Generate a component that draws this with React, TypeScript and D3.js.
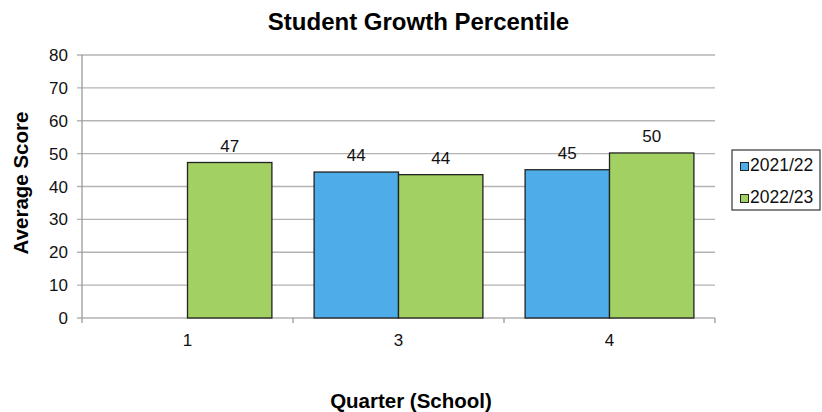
import React from "react";
import * as d3 from "d3";

const categories = ["1", "3", "4"];
const seriesNames = ["2021/22", "2022/23"];
const values2021: (number | null)[] = [null, 44.4, 45.1];
const values2022: (number | null)[] = [47.3, 43.6, 50.2];
const yTicks = [0, 10, 20, 30, 40, 50, 60, 70, 80];
const colors = ["#4eade8", "#a2d062"];

export default function App() {
  const W = 822, H = 412;
  const left = 82, right = 715, top = 55, bottom = 318;
  const x = d3.scaleBand<string>().domain(categories).range([left, right]).paddingInner(0).paddingOuter(0);
  const inner = d3.scaleBand<string>().domain(seriesNames).range([0, x.bandwidth()]).paddingOuter(0.25).paddingInner(0);
  const y = d3.scaleLinear().domain([0, 80]).range([bottom, top]);
  const series = [values2021, values2022];
  const font = "'Liberation Sans', Arial, sans-serif";
  const boundaries = [...categories.map((c) => x(c)!), right];

  return (
    <svg width={W} height={H} style={{ position: "absolute", left: 0, top: 0 }} fontFamily={font}>
      <rect width={W} height={H} fill="#fff" />
      <text x={418.5} y={30} textAnchor="middle" fontSize={24} fontWeight="bold">Student Growth Percentile</text>
      {yTicks.map((t) => (
        <g key={t}>
          <line x1={left - 5} x2={right} y1={y(t)} y2={y(t)} stroke="#b3b3b3" strokeWidth={1.3} />
          <text x={68} y={y(t) + 6} textAnchor="end" fontSize={17} fill="#111">{t}</text>
        </g>
      ))}
      <line x1={left} x2={left} y1={top} y2={bottom} stroke="#9a9a9a" strokeWidth={1.3} />
      {boundaries.map((b, i) => (
        <line key={i} x1={b} x2={b} y1={bottom} y2={bottom + 5} stroke="#9a9a9a" strokeWidth={1.3} />
      ))}
      {series.map((vals, si) =>
        vals.map((v, ci) => {
          if (v == null) return null;
          const bx = x(categories[ci])! + inner(seriesNames[si])!;
          const bw = inner.bandwidth();
          return (
            <g key={`${si}-${ci}`}>
              <rect x={bx} y={y(v)} width={bw} height={bottom - y(v)} fill={colors[si]} stroke="#222" strokeWidth={1.3} />
              <text x={bx + bw / 2} y={y(v) - 11} textAnchor="middle" fontSize={17} fill="#111">{Math.round(v)}</text>
            </g>
          );
        })
      )}
      {categories.map((c) => (
        <text key={c} x={x(c)! + x.bandwidth() / 2} y={346} textAnchor="middle" fontSize={17} fill="#111">{c}</text>
      ))}
      <text transform={`translate(28, 183) rotate(-90)`} textAnchor="middle" fontSize={20.5} fontWeight="bold">Average Score</text>
      <text x={411} y={408} textAnchor="middle" fontSize={20.5} fontWeight="bold">Quarter (School)</text>
      <rect x={732} y={150} width={88} height={60} fill="#fff" stroke="#444" strokeWidth={1.3} />
      {seriesNames.map((s, i) => (
        <g key={s}>
          <rect x={740.5} y={162.5 + i * 32} width={8} height={8} fill={colors[i]} stroke="#222" strokeWidth={1} />
          <text x={750} y={171 + i * 32} fontSize={17.5} fill="#111">{s}</text>
        </g>
      ))}
    </svg>
  );
}
